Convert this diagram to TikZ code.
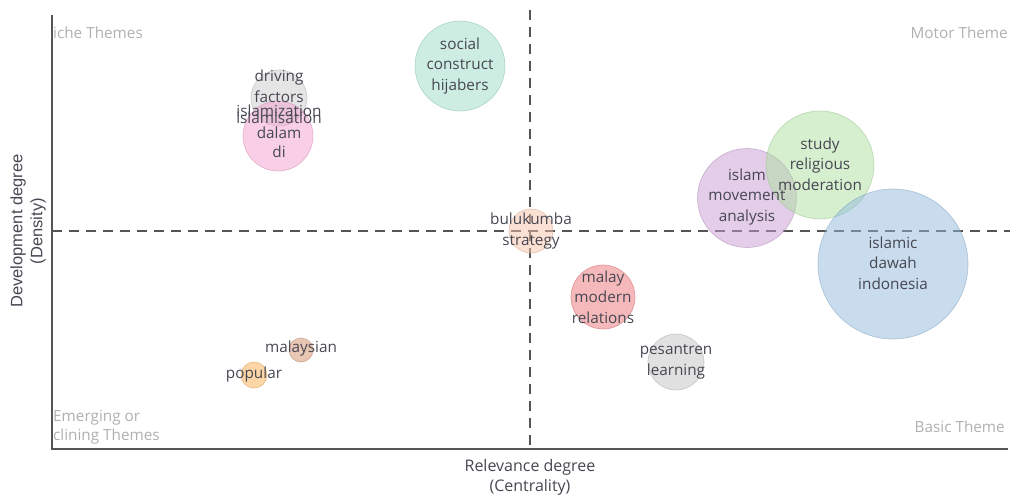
\documentclass[tikz,border=0pt]{standalone}
\usepackage{fontspec}
\setmainfont{Open Sans}
\newfontfamily\axfont{Liberation Sans}
\definecolor{cteal}{HTML}{9BDCC5}
\definecolor{cgrey}{HTML}{CCCCCC}
\definecolor{cpink}{HTML}{F19FCD}
\definecolor{cpeach}{HTML}{F7C3A7}
\definecolor{cred}{HTML}{ED7377}
\definecolor{cgrey2}{HTML}{C3C3C3}
\definecolor{cpurple}{HTML}{C99BD3}
\definecolor{cgreen}{HTML}{ADDF9F}
\definecolor{cblue}{HTML}{91B9DD}
\definecolor{ctan}{HTML}{D38F6B}
\definecolor{corange}{HTML}{FBAD51}
\definecolor{txt}{HTML}{474752}
\definecolor{quad}{HTML}{B0B0B0}
\definecolor{dashc}{HTML}{555555}
\definecolor{axc}{HTML}{555555}
\begin{document}
\begin{tikzpicture}[x=1pt,y=-1pt,
  bub/.style={circle, inner sep=0pt, fill=#1, draw=#1!85!black, fill opacity=0.5, draw opacity=0.5, line width=0.7pt},
  lbl/.style={inner sep=0pt, text=txt, align=center, font=\fontsize{15.3}{20.5}\selectfont},
  quadlbl/.style={inner sep=0pt, text=quad, font=\fontsize{15.3}{19}\selectfont},
  axlbl/.style={inner sep=0pt, text=txt, align=center, font=\fontsize{16}{20}\selectfont},
  dashline/.style={draw=dashc, line width=1.6pt, dash pattern=on 10pt off 7pt},
  axisline/.style={draw=axc, line width=1.2pt}]
\useasboundingbox (0,0) rectangle (1010,496);

% axes
\coordinate (ytop) at (52,15);
\coordinate (orig) at (52,449);
\coordinate (xend) at (1008,449);
\draw[axisline] (ytop) -- (orig) -- (xend);

% dashed quadrant lines
\coordinate (vtop) at (530,10);
\coordinate (vbot) at (530,449);
\coordinate (hleft) at (52,231);
\coordinate (hright) at (1010,231);
\draw[dashline] (vtop) -- (vbot);
\draw[dashline] (hleft) -- (hright);

% quadrant labels
\node[quadlbl, anchor=west] (niche) at (53,33) {iche Themes};
\node[quadlbl, anchor=east] (motor) at (1008,33) {Motor Theme};
\node[quadlbl, anchor=west] (emerg1) at (53,418) {Emerging or};
\node[quadlbl, anchor=west] (emerg2) at (53,437) {clining Themes};
\node[quadlbl, anchor=east] (basic) at (1005,427) {Basic Theme};

% bubbles
\node[bub=cteal, minimum size=90pt] (social) at (460,66) {};
\node[bub=cgrey, minimum size=56pt] (driving) at (279,98) {};
\node[bub=cpink, minimum size=70pt] (islamis) at (278,136) {};
\node[bub=cpeach, minimum size=44pt] (bulu) at (531,231) {};
\node[bub=cred, minimum size=64pt] (malay) at (603,297) {};
\node[bub=cgrey2, minimum size=56pt] (pesan) at (676,362) {};
\node[bub=cpurple, minimum size=99pt] (islam) at (747,198) {};
\node[bub=cgreen, minimum size=108pt] (study) at (820,165) {};
\node[bub=cblue, minimum size=150pt] (dawah) at (893,264) {};
\node[bub=ctan, minimum size=24pt] (malaysian) at (301,350) {};
\node[bub=corange, minimum size=26pt] (popular) at (254,375) {};

% bubble labels
\node[lbl] (socialt) at (460,66) {social\\construct\\hijabers};
\node[lbl] (drv1) at (279,78) {driving};
\node[lbl] (drv2) at (279,97) {factors};
\node[lbl] (drv3) at (279,111) {islamization};
\node[lbl] (ism1) at (279,118) {islamisation};
\node[lbl] (ism2) at (279,133) {dalam};
\node[lbl] (ism3) at (279,152) {di};
\node[lbl] (bulut) at (531,231) {bulukumba\\strategy};
\node[lbl] (malayt) at (603,297) {malay\\modern\\relations};
\node[lbl] (pesant) at (676,362) {pesantren\\learning};
\node[lbl] (islamt) at (747,197) {islam\\movement\\analysis};
\node[lbl] (studyt) at (820,164) {study\\religious\\moderation};
\node[lbl] (dawaht) at (893,263) {islamic\\dawah\\indonesia};
\node[lbl] (malaysiant) at (301,349) {malaysian};
\node[lbl] (populart) at (254,375) {popular};

% axis labels
\node[axlbl] (xlab) at (530,477) {Relevance degree\\(Centrality)};
\node[axlbl, rotate=90, font=\axfont\fontsize{16.5}{20}\selectfont] (ylab) at (28,231) {Development degree\\(Density)};
\end{tikzpicture}
\end{document}
